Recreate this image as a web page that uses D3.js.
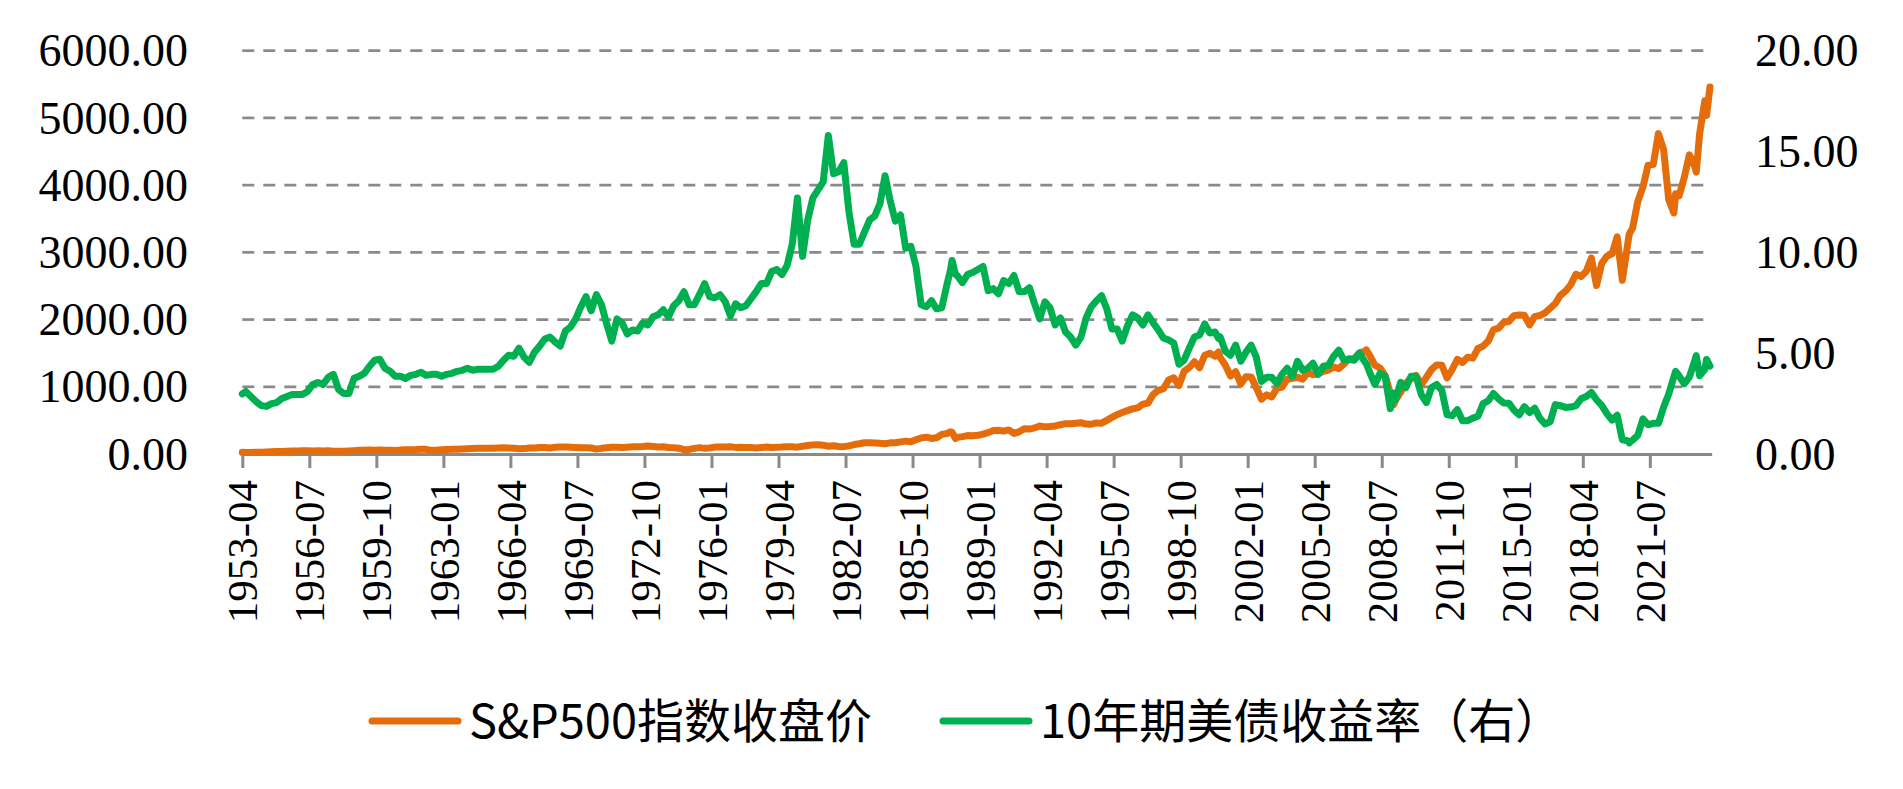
<!DOCTYPE html>
<html>
<head>
<meta charset="utf-8">
<script src="https://cdn.jsdelivr.net/npm/d3@7"></script>
<style>
  body { margin: 0; background: #fff; }
</style>
</head>
<body>
<div id="chart"></div>
<script>
// month-end data, quarterly sampling plus a few turning points
const months = [
  "1953-04","1953-06","1953-09","1953-12","1954-03","1954-06","1954-09","1954-12","1955-03","1955-06","1955-09","1955-12",
  "1956-03","1956-06","1956-09","1956-12","1957-03","1957-06","1957-09","1957-12","1958-03","1958-06","1958-09","1958-12",
  "1959-03","1959-06","1959-09","1959-12","1960-03","1960-06","1960-09","1960-12","1961-03","1961-06","1961-09","1961-12",
  "1962-03","1962-06","1962-09","1962-12","1963-03","1963-06","1963-09","1963-12","1964-03","1964-06","1964-09","1964-12",
  "1965-03","1965-06","1965-09","1965-12","1966-03","1966-06","1966-09","1966-12","1967-03","1967-06","1967-09","1967-12",
  "1968-03","1968-06","1968-09","1968-12","1969-03","1969-06","1969-09","1969-12","1970-03","1970-06","1970-09","1970-12",
  "1971-03","1971-06","1971-09","1971-12","1972-03","1972-06","1972-09","1972-12","1973-03","1973-06","1973-09","1973-12",
  "1974-03","1974-06","1974-09","1974-12","1975-03","1975-06","1975-09","1975-12","1976-03","1976-06","1976-09","1976-12",
  "1977-03","1977-06","1977-09","1977-12","1978-03","1978-06","1978-09","1978-12","1979-03","1979-06","1979-09","1979-12",
  "1980-03","1980-06","1980-09","1980-12","1981-03","1981-06","1981-09","1981-12","1982-03","1982-06","1982-09","1982-12",
  "1983-03","1983-06","1983-09","1983-12","1984-03","1984-06","1984-09","1984-12","1985-03","1985-06","1985-09","1985-12",
  "1986-03","1986-06","1986-09","1986-12","1987-03","1987-06","1987-08","1987-09","1987-11","1987-12",
  "1988-03","1988-06","1988-09","1988-12","1989-03","1989-06","1989-09","1989-12","1990-03","1990-06","1990-09","1990-12",
  "1991-03","1991-06","1991-09","1991-12","1992-03","1992-06","1992-09","1992-12","1993-03","1993-06","1993-09","1993-12",
  "1994-03","1994-06","1994-09","1994-12","1995-03","1995-06","1995-09","1995-12","1996-03","1996-06","1996-09","1996-12",
  "1997-03","1997-06","1997-09","1997-12","1998-03","1998-06","1998-09","1998-12","1999-03","1999-06","1999-09","1999-12",
  "2000-03","2000-06","2000-08","2000-09","2000-12","2001-03","2001-06","2001-09","2001-12","2002-03","2002-06","2002-09","2002-12",
  "2003-03","2003-06","2003-09","2003-12","2004-03","2004-06","2004-09","2004-12","2005-03","2005-06","2005-09","2005-12",
  "2006-03","2006-06","2006-09","2006-12","2007-03","2007-06","2007-09","2007-10","2007-12",
  "2008-03","2008-06","2008-09","2008-12","2009-02","2009-03","2009-06","2009-09","2009-12",
  "2010-03","2010-06","2010-09","2010-12","2011-03","2011-06","2011-09","2011-12","2012-03","2012-06","2012-09","2012-12",
  "2013-03","2013-06","2013-09","2013-12","2014-03","2014-06","2014-09","2014-12","2015-03","2015-06","2015-09","2015-12",
  "2016-03","2016-06","2016-09","2016-12","2017-03","2017-06","2017-09","2017-12","2018-03","2018-06","2018-09","2018-12",
  "2019-03","2019-06","2019-09","2019-12","2020-03","2020-06","2020-07","2020-09","2020-12",
  "2021-03","2021-06","2021-09","2021-12","2022-03","2022-06","2022-09","2022-10","2022-12",
  "2023-03","2023-06","2023-09","2023-10","2023-12","2024-03","2024-04","2024-06"
];

const spx = [
  24.62,24.14,23.35,24.81,26.94,29.21,32.31,35.98,36.58,41.03,43.67,45.48,
  48.48,46.97,45.35,46.67,44.11,47.37,42.42,39.99,42.10,45.24,50.06,55.21,
  55.44,58.47,56.88,59.89,55.34,56.92,53.52,58.11,65.06,64.64,66.73,71.55,
  69.55,54.75,56.27,63.10,66.57,69.37,71.70,75.02,78.98,81.69,84.18,84.75,
  86.16,84.12,89.96,92.43,89.23,84.74,76.56,80.33,90.20,90.64,96.71,96.47,
  90.20,99.58,102.67,103.86,101.51,97.71,93.12,92.06,89.63,72.72,84.21,92.15,
  100.31,99.70,98.34,102.09,107.20,107.14,110.55,118.05,111.52,104.26,108.43,97.55,
  93.98,86.00,63.54,68.56,83.36,95.19,83.87,90.19,102.77,104.28,105.24,107.46,
  98.42,100.48,96.53,95.10,89.21,95.53,102.54,96.11,101.59,102.91,109.32,107.94,
  102.09,114.24,125.46,135.76,136.00,131.21,116.18,122.55,111.96,109.61,120.42,140.64,
  152.96,168.11,166.07,164.93,159.18,153.18,166.10,167.24,180.66,191.85,182.08,211.28,
  238.90,250.84,231.32,242.17,291.70,304.00,329.80,321.83,230.30,247.08,
  258.89,273.50,271.91,277.72,294.87,317.98,349.15,353.40,339.94,358.02,306.05,330.22,
  375.22,371.16,387.86,417.09,403.69,408.14,417.80,435.71,451.67,450.53,458.93,466.45,
  445.77,444.27,462.69,459.27,500.71,544.75,584.41,615.93,645.50,670.63,687.31,740.74,
  757.12,885.14,947.28,970.43,1101.75,1133.84,1017.01,1229.23,1286.37,1372.71,1282.71,1469.25,
  1498.58,1454.60,1517.68,1436.51,1320.28,1160.33,1224.42,1040.94,1148.08,1147.39,989.82,815.28,879.82,
  848.18,974.50,995.97,1111.92,1126.21,1140.84,1114.58,1211.92,1180.59,1191.33,1228.81,1248.29,
  1294.83,1270.20,1335.85,1418.30,1420.86,1503.35,1526.75,1549.38,1468.36,
  1322.70,1280.00,1166.36,903.25,735.09,797.87,919.32,1057.08,1115.10,
  1169.43,1030.71,1141.20,1257.64,1325.83,1320.64,1131.42,1257.60,1408.47,1362.16,1440.67,1426.19,
  1569.19,1606.28,1681.55,1848.36,1872.34,1960.23,1972.29,2058.90,2067.89,2063.11,1920.03,2043.94,
  2059.74,2098.86,2168.27,2238.83,2362.72,2423.41,2519.36,2673.61,2640.87,2718.37,2913.98,2506.85,
  2834.40,2941.76,2976.74,3230.78,2584.59,3100.29,3271.12,3363.00,3756.07,
  3972.89,4297.50,4307.54,4766.18,4530.41,3785.38,3585.62,3871.98,3839.50,
  4109.31,4450.38,4288.05,4193.80,4769.83,5254.35,5035.69,5460.48
];

const ust10y = [
  2.98,3.10,2.85,2.60,2.40,2.36,2.50,2.55,2.75,2.85,2.95,2.95,
  2.95,3.10,3.45,3.55,3.45,3.80,3.95,3.20,3.00,3.00,3.75,3.85,
  4.00,4.35,4.65,4.70,4.25,4.10,3.85,3.85,3.75,3.90,3.95,4.05,
  3.90,3.95,3.95,3.85,3.95,4.00,4.10,4.15,4.25,4.15,4.20,4.20,
  4.20,4.20,4.35,4.65,4.90,4.85,5.25,4.80,4.55,5.05,5.35,5.70,
  5.80,5.55,5.35,6.10,6.30,6.70,7.30,7.80,7.10,7.90,7.40,6.45,
  5.60,6.70,6.50,5.95,6.15,6.10,6.50,6.40,6.80,6.90,7.15,6.80,
  7.35,7.60,8.05,7.40,7.40,7.90,8.45,7.80,7.75,7.90,7.55,6.85,
  7.45,7.25,7.35,7.70,8.05,8.45,8.45,9.05,9.15,8.90,9.35,10.40,
  12.70,9.80,11.60,12.70,13.10,13.50,15.80,13.90,14.00,14.45,12.00,10.40,
  10.40,11.00,11.60,11.80,12.40,13.80,12.55,11.55,11.85,10.20,10.30,9.30,
  7.40,7.30,7.60,7.20,7.25,8.40,9.10,9.60,8.90,8.85,
  8.50,8.90,9.00,9.15,9.30,8.10,8.20,7.95,8.60,8.45,8.85,8.05,
  8.05,8.25,7.45,6.70,7.55,7.25,6.40,6.75,6.05,5.80,5.40,5.80,
  6.75,7.30,7.60,7.85,7.20,6.20,6.20,5.60,6.35,6.90,6.75,6.40,
  6.90,6.50,6.15,5.75,5.65,5.50,4.45,4.65,5.25,5.80,5.90,6.45,
  6.00,6.05,5.73,5.80,5.10,4.90,5.40,4.60,5.05,5.40,4.80,3.60,3.80,
  3.80,3.50,3.95,4.25,3.85,4.60,4.15,4.25,4.50,3.95,4.35,4.40,
  4.85,5.15,4.65,4.70,4.65,5.00,4.60,4.48,4.05,
  3.45,4.00,3.85,2.25,3.02,2.70,3.55,3.30,3.85,
  3.85,2.95,2.55,3.30,3.45,3.15,1.95,1.90,2.20,1.65,1.65,1.78,
  1.87,2.50,2.64,3.00,2.73,2.53,2.52,2.17,1.94,2.35,2.06,2.27,
  1.78,1.49,1.60,2.45,2.40,2.31,2.33,2.40,2.74,2.85,3.05,2.69,
  2.41,2.00,1.68,1.92,0.70,0.66,0.55,0.69,0.93,
  1.74,1.45,1.52,1.52,2.32,2.98,3.83,4.10,3.88,
  3.48,3.81,4.59,4.88,3.88,4.20,4.69,4.36
];

const xTickLabels = [
  "1953-04","1956-07","1959-10","1963-01","1966-04","1969-07","1972-10","1976-01","1979-04","1982-07","1985-10",
  "1989-01","1992-04","1995-07","1998-10","2002-01","2005-04","2008-07","2011-10","2015-01","2018-04","2021-07"
];
const leftTicks = [0, 1000, 2000, 3000, 4000, 5000, 6000];
const rightTicks = [0, 5, 10, 15, 20];
const seriesNames = ["S&P500指数收盘价", "10年期美债收益率（右）"];
const seriesColors = ["#E46C0A", "#00B050"];

const width = 1903;
const height = 789;
const plotLeft = 242.3, plotRight = 1711.7, plotTop = 50.7, plotBottom = 454;
const gray = "#8a8a8a";
const tickFont = "'Liberation Serif', 'Times New Roman', serif";

const monthIndex = s => {
  const [yr, mo] = s.split("-").map(Number);
  return (yr - 1953) * 12 + (mo - 4);
};

const svg = d3.select("#chart")
  .append("svg")
  .attr("width", width)
  .attr("height", height)
  .style("background", "#fff");

const x = d3.scaleLinear().domain([0, monthIndex("2024-07")]).range([plotLeft, plotRight]);
const yLeft = d3.scaleLinear().domain([0, 6000]).range([plotBottom, plotTop]);
const yRight = d3.scaleLinear().domain([0, 20]).range([plotBottom, plotTop]);

// dashed gridlines
svg.append("g")
  .selectAll("line")
  .data(leftTicks.filter(d => d > 0))
  .enter()
  .append("line")
  .attr("x1", plotLeft)
  .attr("x2", plotRight)
  .attr("y1", d => yLeft(d))
  .attr("y2", d => yLeft(d))
  .attr("stroke", gray)
  .attr("stroke-width", 2.7)
  .attr("stroke-dasharray", "12 9");

// left axis labels
svg.append("g")
  .selectAll("text")
  .data(leftTicks)
  .enter()
  .append("text")
  .attr("x", 188)
  .attr("y", d => yLeft(d))
  .attr("dy", "0.34em")
  .attr("text-anchor", "end")
  .style("font-family", tickFont)
  .style("font-size", "46px")
  .text(d => d3.format(".2f")(d));

// right axis labels
svg.append("g")
  .selectAll("text")
  .data(rightTicks)
  .enter()
  .append("text")
  .attr("x", 1755)
  .attr("y", d => yRight(d))
  .attr("dy", "0.34em")
  .attr("text-anchor", "start")
  .style("font-family", tickFont)
  .style("font-size", "46px")
  .text(d => d3.format(".2f")(d));

// x axis
const xAxis = d3.axisBottom(x)
  .tickValues(xTickLabels.map(monthIndex))
  .tickFormat((d, i) => xTickLabels[i])
  .tickSizeInner(14)
  .tickSizeOuter(0);

const gx = svg.append("g")
  .attr("transform", `translate(0,${plotBottom})`)
  .call(xAxis);

gx.select(".domain").attr("stroke", gray).attr("stroke-width", 3);
gx.selectAll(".tick line").attr("stroke", gray).attr("stroke-width", 3);
gx.selectAll(".tick text")
  .attr("transform", "rotate(-90)")
  .attr("x", -26)
  .attr("y", 0)
  .attr("dy", "0.34em")
  .attr("text-anchor", "end")
  .attr("fill", "#000")
  .style("font-family", tickFont)
  .style("font-size", "43px");

// series lines
const spxData = months.map((m, i) => ({ m: monthIndex(m), v: spx[i] }));
const ustData = months.map((m, i) => ({ m: monthIndex(m), v: ust10y[i] }));

const lineLeft = d3.line().x(d => x(d.m)).y(d => yLeft(d.v));
const lineRight = d3.line().x(d => x(d.m)).y(d => yRight(d.v));

svg.append("path")
  .datum(spxData)
  .attr("d", lineLeft)
  .attr("fill", "none")
  .attr("stroke", seriesColors[0])
  .attr("stroke-width", 7)
  .attr("stroke-linejoin", "round")
  .attr("stroke-linecap", "round");

svg.append("path")
  .datum(ustData)
  .attr("d", lineRight)
  .attr("fill", "none")
  .attr("stroke", seriesColors[1])
  .attr("stroke-width", 7)
  .attr("stroke-linejoin", "round")
  .attr("stroke-linecap", "round");

// legend
const legendX = [369, 940];
const legend = svg.append("g")
  .selectAll("g")
  .data(seriesNames)
  .enter()
  .append("g")
  .attr("transform", (d, i) => `translate(${legendX[i]},721)`);

legend.append("line")
  .attr("x1", 3)
  .attr("x2", 89)
  .attr("stroke", (d, i) => seriesColors[i])
  .attr("stroke-width", 7)
  .attr("stroke-linecap", "round");

legend.append("text")
  .attr("x", 100)
  .attr("dy", "0.36em")
  .style("font-family", "'Noto Sans CJK SC', sans-serif")
  .style("font-size", "47px")
  .text(d => d);
</script>
</body>
</html>
